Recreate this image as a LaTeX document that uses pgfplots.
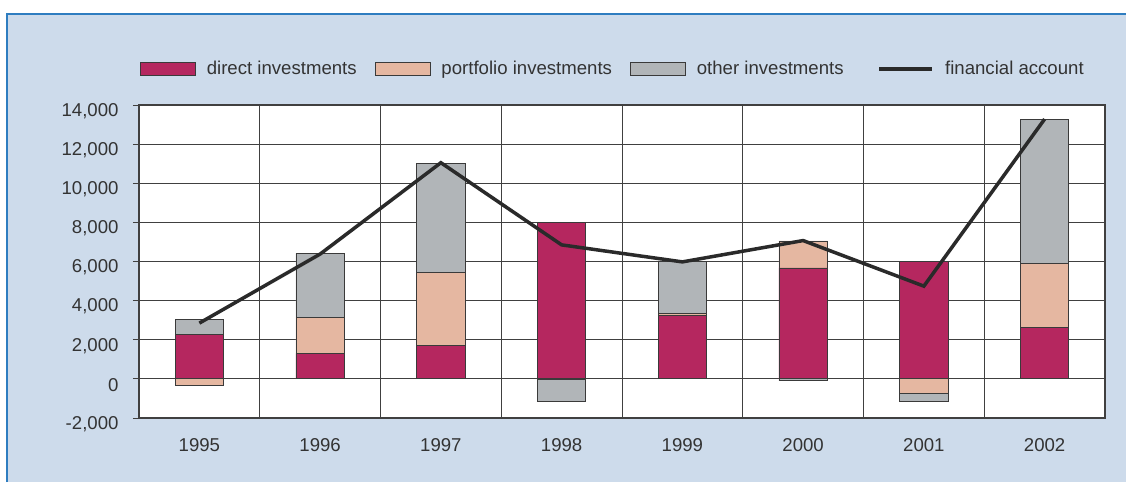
\documentclass[border=0pt]{standalone}
\usepackage{pgfplots}
\usepackage{pgfplotstable}
\pgfplotsset{compat=1.18}
\usepackage{fontspec}
\setmainfont{Liberation Sans}
\definecolor{bgcol}{HTML}{CDDBEB}
\definecolor{bordercol}{HTML}{2E7DC0}
\definecolor{dircol}{HTML}{B5275F}
\definecolor{portcol}{HTML}{E5B7A1}
\definecolor{othcol}{HTML}{B1B5B8}
\definecolor{edgecol}{HTML}{3A3A3A}
\definecolor{gridcol}{HTML}{404040}
\definecolor{textcol}{HTML}{333333}
\definecolor{linecol}{HTML}{2A2A2A}

\pgfplotstableread{
x direct port other
0 2290 0 760
1 1300 1840 3280
2 1720 3720 5590
3 8000 0 0
4 3250 100 2650
5 5670 1380 0
6 6000 0 0
7 2610 3270 7400
}\posdata
\pgfplotstableread{
x port other
0 -330 0
1 0 0
2 0 0
3 -40 -1130
4 0 0
5 0 -100
6 -760 -410
7 0 0
}\negdata
\pgfplotstableread{
x fa
0 2850
1 6380
2 11050
3 6850
4 5980
5 7070
6 4740
7 13280
}\fadata

\pgfplotsset{
  myaxis/.style={
    scale only axis, width=966pt, height=313pt,
    xmin=-0.5, xmax=7.5, ymin=-2000, ymax=14000,
    at={(139pt,64pt)}, anchor=south west,
  },
  barstyle/.style={draw=edgecol, line width=0.8pt},
}
\newcommand{\lfont}{\fontsize{18.6}{21}\selectfont}

\begin{document}
\begin{tikzpicture}
\useasboundingbox (0,0) rectangle (1126pt,482pt);
\fill[bgcol] (7pt,0pt) rectangle (1126pt,468pt);
\draw[bordercol, line width=1.5pt] (7pt,0pt) -- (7pt,468pt) -- (1126pt,468pt);

% axis 1: grid, ticks, positive bars
\begin{axis}[myaxis,
  axis background/.style={fill=white},
  ybar stacked, bar width=0.4,
  xtick={0,...,7}, xticklabels={1995,1996,1997,1998,1999,2000,2001,2002},
  minor xtick={0.5,1.5,...,6.5},
  xminorgrids=true, xmajorgrids=false, ymajorgrids=true,
  ytick={-2000,0,2000,4000,6000,8000,10000,12000,14000},
  scaled y ticks=false,
  /pgf/number format/assume math mode=true,
  /pgf/number format/1000 sep={,},
  tick align=outside, ytick pos=left, xtick pos=bottom,
  major tick length=6pt,
  xtick style={draw=none},
  ytick style={draw=gridcol, line width=0.8pt},
  axis line style={draw=gridcol, line width=1.2pt},
  major grid style={draw=gridcol, line width=0.9pt},
  minor grid style={draw=gridcol, line width=0.9pt},
  tick label style={font=\lfont, text=textcol},
  yticklabel style={yshift=-6pt, xshift=-11pt},
  xticklabel style={yshift=-11pt},
]
\addplot[barstyle, fill=dircol] table[x=x,y=direct]{\posdata};
\addplot[barstyle, fill=portcol] table[x=x,y=port]{\posdata};
\addplot[barstyle, fill=othcol] table[x=x,y=other]{\posdata};
\end{axis}

% axis 2: negative bars
\begin{axis}[myaxis, hide axis, ybar stacked, bar width=0.4]
\addplot[barstyle, fill=portcol] table[x=x,y=port]{\negdata};
\addplot[barstyle, fill=othcol] table[x=x,y=other]{\negdata};
\end{axis}

% axis 3: line and legend
\begin{axis}[myaxis, hide axis,
  legend columns=4,
  legend style={at={(0,1)}, anchor=west, xshift=1pt, yshift=36pt,
    draw=none, fill=none, inner sep=0pt, outer sep=0pt,
    font=\lfont, text=textcol,
    /tikz/every odd column/.append style={column sep=9pt},
    /tikz/every even column/.append style={column sep=16pt}},
]
\addlegendimage{legend image code/.code={\draw[fill=dircol,draw=edgecol,line width=0.8pt] (0pt,-6.8pt) rectangle (55pt,6.8pt);}}
\addlegendentry{direct investments}
\addlegendimage{legend image code/.code={\draw[fill=portcol,draw=edgecol,line width=0.8pt] (0pt,-6.8pt) rectangle (55pt,6.8pt);}}
\addlegendentry{portfolio investments}
\addlegendimage{legend image code/.code={\draw[fill=othcol,draw=edgecol,line width=0.8pt] (0pt,-6.8pt) rectangle (55pt,6.8pt);}}
\addlegendentry{other investments}
\addplot[linecol, line width=3.5pt, mark=none,
  legend image code/.code={\path (0pt,0pt); \draw[linecol, line width=3.5pt] (16pt,0pt) -- (69pt,0pt);}]
  table[x=x,y=fa]{\fadata};
\addlegendentry{financial account}
\end{axis}
\end{tikzpicture}
\end{document}
